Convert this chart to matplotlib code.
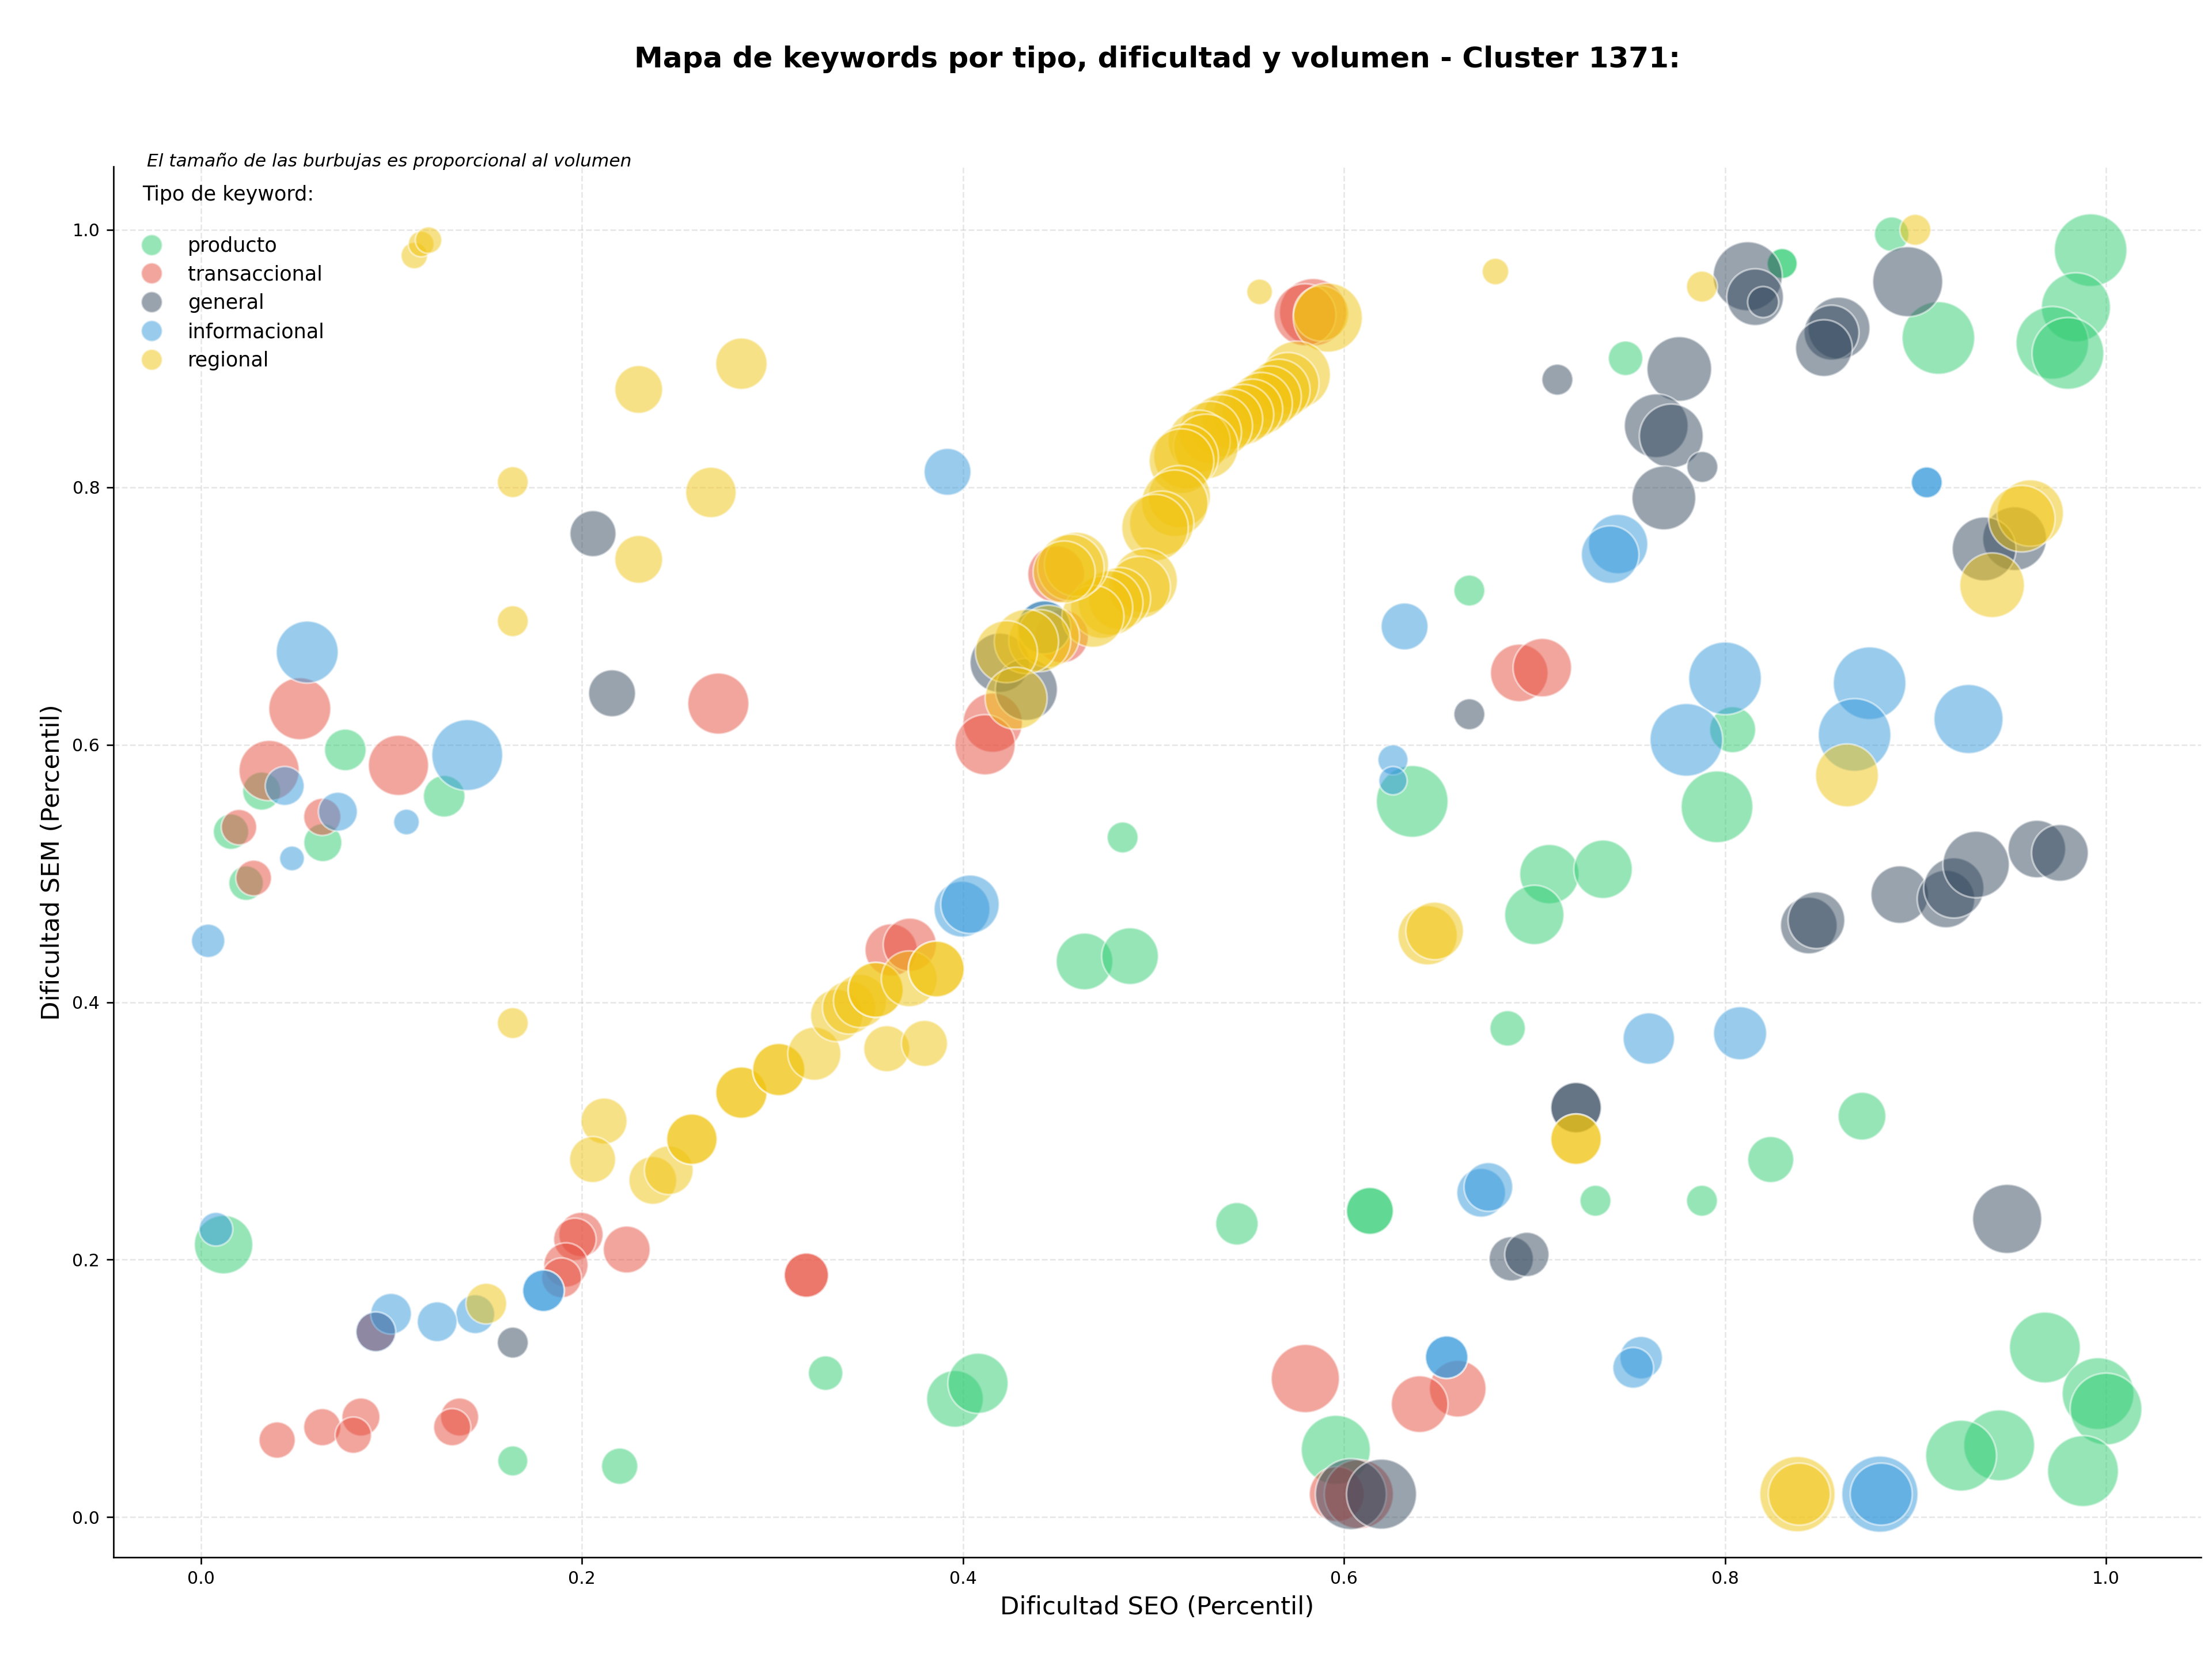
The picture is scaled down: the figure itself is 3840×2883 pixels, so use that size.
import matplotlib
matplotlib.use("Agg")
import matplotlib.pyplot as plt
from matplotlib.lines import Line2D

# ---------------- data ----------------
tipos = ["producto", "transaccional", "general", "informacional", "regional"]
colores = {"producto": "#2ecc71", "transaccional": "#e74c3c", "general": "#34495e",
           "informacional": "#3498db", "regional": "#f1c40f"}

prod_x = [0.0758, 0.0319, 0.1277, 0.064, 0.0158, 0.0237, 0.0119, 0.1637, 0.2198,
          0.4638, 0.4877, 0.6859, 0.5438, 0.6136, 0.6136, 0.3279, 0.3958, 0.4079, 0.5957,
          0.6658, 0.6358, 0.4838, 0.8875, 0.9919, 0.83, 0.83, 0.912, 0.9842, 0.9718, 0.98,
          0.7478, 0.804, 0.7958, 0.7078, 0.736, 0.6999, 0.8719, 0.824, 0.732, 0.7879,
          0.9679, 0.9958, 1.0, 0.9439, 0.9239, 0.9879]
prod_y = [0.596, 0.564, 0.560, 0.524, 0.5325, 0.4925, 0.2117, 0.0437, 0.0396,
          0.4317, 0.4358, 0.3797, 0.2279, 0.2379, 0.2379, 0.1119, 0.0919, 0.104, 0.0523,
          0.7198, 0.556, 0.528, 0.9966, 0.9842, 0.9738, 0.9738, 0.916, 0.9398, 0.9122, 0.904,
          0.9002, 0.6117, 0.5518, 0.4995, 0.5033, 0.4678, 0.3115, 0.2778, 0.2458, 0.2458,
          0.1318, 0.096, 0.084, 0.0558, 0.0478, 0.0358]
prod_s = [471, 394, 471, 394, 341, 324, 928, 246, 358,
          873, 873, 341, 491, 598, 598, 324, 873, 985, 1296,
          261, 1398, 261, 324, 1433, 246, 246, 1433, 1296, 1433, 1398,
          324, 576, 1398, 956, 928, 956, 621, 576, 261, 261,
          1364, 1398, 1398, 1364, 1364, 1364]

trans_x = [0.2716, 0.0519, 0.1037, 0.0358, 0.0637, 0.02, 0.0277,
           0.1995, 0.1963, 0.2235, 0.1916, 0.1893, 0.04, 0.0637, 0.084, 0.08, 0.1358, 0.1319,
           0.3178, 0.3178, 0.0918, 0.0918,
           0.3623, 0.3721, 0.5797, 0.6597, 0.6397, 0.5962, 0.6078,
           0.5838, 0.5795, 0.4489, 0.4519, 0.4156, 0.4116, 0.692, 0.7041]
trans_y = [0.632, 0.628, 0.584, 0.580, 0.544, 0.536, 0.4965,
           0.2196, 0.2158, 0.2079, 0.1959, 0.1859, 0.0599, 0.0699, 0.0778, 0.0637, 0.0778, 0.0699,
           0.188, 0.188, 0.144, 0.144,
           0.4406, 0.4447, 0.1077, 0.0998, 0.0878, 0.0179, 0.0179,
           0.936, 0.934, 0.7325, 0.6843, 0.6172, 0.600, 0.6558, 0.6599]
trans_s = [1014, 1044, 985, 985, 376, 341, 346,
           533, 491, 598, 533, 431, 358, 376, 394, 358, 394, 376,
           533, 533, 431, 431,
           742, 767, 1263, 873, 873, 819, 1296,
           1231, 1044, 873, 767, 956, 985, 900, 928]

gen_x = [0.2058, 0.2158, 0.1637, 0.6036, 0.6197, 0.6878, 0.696, 0.6658,
         0.4426, 0.4193, 0.4333,
         0.8119, 0.8158, 0.82, 0.8598, 0.8559, 0.8519, 0.8959, 0.712, 0.776, 0.7639,
         0.7718, 0.7881, 0.7679, 0.952, 0.936,
         0.844, 0.848, 0.8917, 0.916, 0.9201, 0.9318, 0.9637, 0.9758, 0.7218, 0.7218, 0.9481]
gen_y = [0.764, 0.640, 0.1356, 0.0179, 0.0179, 0.2007, 0.2041, 0.6237,
         0.6912, 0.6637, 0.643,
         0.9639, 0.9477, 0.9439, 0.9236, 0.9201, 0.9081, 0.9597, 0.8836, 0.8919, 0.8478,
         0.8399, 0.8158, 0.7917, 0.7601, 0.7521,
         0.4596, 0.4637, 0.4836, 0.4802, 0.4888, 0.507, 0.519, 0.516, 0.3181, 0.3181, 0.2317]
gen_s = [576, 598, 261, 1364, 1330, 533, 533, 261,
         767, 956, 1044,
         1296, 873, 261, 1044, 819, 873, 1330, 261, 1135, 1105,
         1105, 261, 1105, 1105, 1105,
         873, 873, 900, 900, 985, 1199, 900, 873, 692, 692, 1296]

info_x = [0.0558, 0.1398, 0.044, 0.0719, 0.1079, 0.0478, 0.0038,
          0.0079, 0.1798, 0.1798, 0.144, 0.0998, 0.124, 0.0918,
          0.3995, 0.4037, 0.672, 0.6758, 0.6539, 0.6539,
          0.3919, 0.4426, 0.6318, 0.6257, 0.6257,
          0.9059, 0.9059, 0.7439, 0.7397, 0.8, 0.8759, 0.7797, 0.868, 0.9278,
          0.76, 0.8079, 0.756, 0.7518, 0.8813, 0.882]
info_y = [0.672, 0.592, 0.568, 0.548, 0.540, 0.5117, 0.4477,
          0.2237, 0.1759, 0.1759, 0.1577, 0.158, 0.1518, 0.144,
          0.4723, 0.4761, 0.252, 0.2565, 0.1243, 0.1243,
          0.812, 0.6912, 0.6919, 0.5883, 0.5721,
          0.8038, 0.8038, 0.7559, 0.7477, 0.6516, 0.6478, 0.6038, 0.6076, 0.620,
          0.3718, 0.3759, 0.1239, 0.116, 0.0179, 0.0179]
info_s = [1044, 1364, 412, 412, 179, 167, 303,
          308, 471, 471, 412, 451, 431, 431,
          846, 928, 644, 644, 491, 491,
          598, 767, 598, 246, 218,
          261, 261, 956, 900, 1433, 1433, 1433, 1433, 1296,
          717, 767, 491, 451, 1576, 1044]

reg_x = [0.112, 0.1156, 0.1195, 0.2298, 0.2837, 0.1637, 0.2677, 0.2298, 0.1637,
         0.5557, 0.6795, 0.7879, 0.8999, 0.9602, 0.9558, 0.9402, 0.864, 0.6439, 0.6476,
         0.7218, 0.7218, 0.838, 0.839,
         0.1637, 0.2116, 0.2056, 0.2372, 0.2456, 0.2577, 0.2577, 0.2837, 0.2837,
         0.3033, 0.3033, 0.1498,
         0.322, 0.36, 0.3798, 0.3337, 0.3402, 0.346, 0.3542, 0.3542, 0.3718, 0.386, 0.386,
         0.588, 0.5915, 0.5752, 0.5706, 0.5659, 0.5613, 0.5566, 0.552, 0.5473, 0.5415,
         0.5357, 0.5299, 0.524, 0.5275, 0.5171, 0.5147, 0.5136, 0.5112, 0.5043, 0.5008,
         0.4956, 0.4926, 0.4822, 0.4775, 0.4728, 0.4682, 0.4596, 0.4566, 0.4531,
         0.4449, 0.4403, 0.4333, 0.4228, 0.4279]
reg_y = [0.980, 0.989, 0.992, 0.876, 0.896, 0.804, 0.796, 0.744, 0.696,
         0.9518, 0.9676, 0.9559, 1.0, 0.780, 0.7756, 0.7239, 0.5762, 0.452, 0.4554,
         0.2936, 0.2936, 0.0179, 0.0179,
         0.3838, 0.3077, 0.2778, 0.2616, 0.2695, 0.2936, 0.2936, 0.3298, 0.3298,
         0.3477, 0.3477, 0.1659,
         0.360, 0.3639, 0.368, 0.3897, 0.3959, 0.401, 0.4096, 0.4096, 0.4182, 0.4258, 0.4258,
         0.935, 0.9318, 0.8874, 0.8806, 0.8754, 0.8702, 0.8651, 0.8606, 0.8565, 0.853,
         0.8478, 0.8427, 0.8358, 0.8317, 0.8238, 0.8203, 0.7928, 0.7876, 0.7721, 0.7687,
         0.7274, 0.7222, 0.7136, 0.7102, 0.7067, 0.6998, 0.7401, 0.7377, 0.7342,
         0.6843, 0.6809, 0.6802, 0.6723, 0.6361]
reg_s = [191, 180, 191, 621, 717, 261, 692, 621, 261,
         179, 192, 261, 261, 1199, 1199, 1135, 1074, 956, 900,
         692, 692, 1540, 1044,
         261, 576, 576, 621, 644, 692, 692, 717, 717,
         742, 742, 451,
         767, 576, 576, 742, 767, 767, 819, 819, 846, 846, 846,
         832, 1296, 1231, 1044, 1044, 1044, 1044, 985, 985, 985,
         1044, 1044, 1044, 1135, 1135, 1135, 1044, 1199, 1120, 1199,
         1135, 1044, 1044, 1135, 1044, 1044, 1120, 1199, 1044,
         1044, 1044, 1120, 1044, 1044]

datos = {
    "producto": (prod_x, prod_y, prod_s),
    "transaccional": (trans_x, trans_y, trans_s),
    "general": (gen_x, gen_y, gen_s),
    "informacional": (info_x, info_y, info_s),
    "regional": (reg_x, reg_y, reg_s),
}

titulo = "Mapa de keywords por tipo, dificultad y volumen - Cluster 1371:"
subtitulo = "El tamaño de las burbujas es proporcional al volumen"

# ---------------- figure ----------------
fig = plt.figure(figsize=(16, 12.0125), dpi=240)
ax = fig.add_axes([0.0512, 0.0624, 0.9438, 0.8373])

for t in tipos:
    xs, ys, ss = datos[t]
    ax.scatter(xs, ys, s=ss, c=colores[t], alpha=0.5, edgecolors="white",
               linewidths=1, zorder=3)

ax.grid(True, linestyle="--", alpha=0.3, linewidth=0.8, zorder=0)
ax.set_axisbelow(True)
ax.spines["top"].set_visible(False)
ax.spines["right"].set_visible(False)
ax.tick_params(labelsize=9)

ax.set_xlabel("Dificultad SEO (Percentil)", fontsize=13)
ax.set_ylabel("Dificultad SEM (Percentil)", fontsize=13)
ax.set_title(titulo, fontsize=15, fontweight="bold", pad=51.6)

ax.text(0.016, 1.0, subtitulo, transform=ax.transAxes, fontsize=9.4,
        style="italic", va="baseline", ha="left")

handles = [Line2D([0], [0], marker="o", linestyle="", markersize=11,
                  markerfacecolor=colores[t], markeredgecolor="white",
                  alpha=0.5, label=t) for t in tipos]
ax.legend(handles=handles, loc="upper left", frameon=False, fontsize=10.5,
          title="Tipo de keyword:\n", title_fontsize=10.5, labelspacing=0.45)

fig.savefig("out.png", dpi=240)
